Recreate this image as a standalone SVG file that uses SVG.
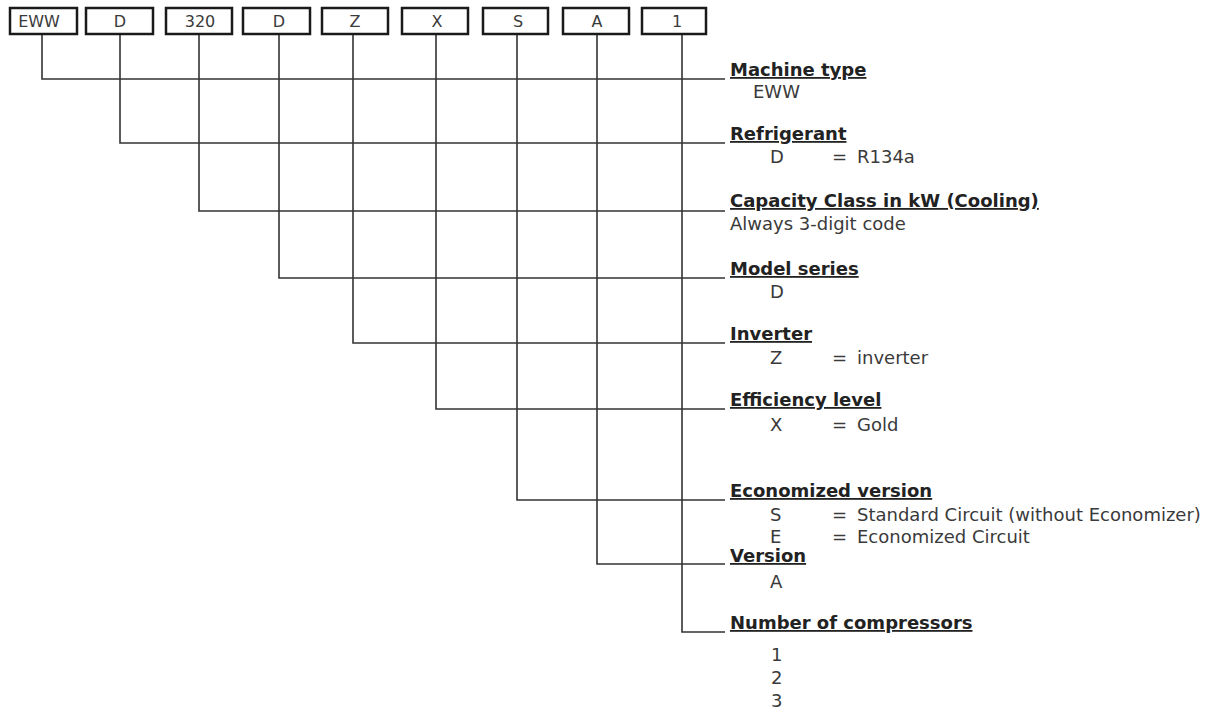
<svg xmlns="http://www.w3.org/2000/svg" width="1215" height="711" viewBox="0 0 1215 711">
<style>
.box rect{fill:#fff;stroke:#1a1a1a;stroke-width:2.5}
.box text{font-family:"DejaVu Sans",Verdana,sans-serif;font-size:16px;fill:#3a3a3a;text-anchor:middle}
.conn{fill:none;stroke:#333;stroke-width:1.6}
.t{font-family:"DejaVu Sans",Verdana,sans-serif;font-size:18px;font-weight:bold;fill:#222;text-decoration:underline}
.v{font-family:"DejaVu Sans",Verdana,sans-serif;font-size:18px;fill:#3a3a3a}
</style>
<rect width="1215" height="711" fill="#fff"/>
<g id="connectors">
<path class="conn" d="M42,34 V79 H725"/>
<path class="conn" d="M120,34 V143 H725"/>
<path class="conn" d="M199,34 V211 H725"/>
<path class="conn" d="M279,34 V278 H725"/>
<path class="conn" d="M353,34 V343 H725"/>
<path class="conn" d="M436,34 V409 H725"/>
<path class="conn" d="M517,34 V500 H725"/>
<path class="conn" d="M597,34 V564 H725"/>
<path class="conn" d="M682,34 V632 H725"/>
</g>
<g id="box-eww" class="box"><rect x="10" y="8" width="67" height="26"/><text x="39" y="27">EWW</text></g>
<g id="box-d1" class="box"><rect x="86" y="8" width="67" height="26"/><text x="120" y="27">D</text></g>
<g id="box-320" class="box"><rect x="166" y="8" width="66" height="26"/><text x="200" y="27">320</text></g>
<g id="box-d2" class="box"><rect x="243" y="8" width="67" height="26"/><text x="279" y="27">D</text></g>
<g id="box-z" class="box"><rect x="322" y="8" width="66" height="26"/><text x="355" y="27">Z</text></g>
<g id="box-x" class="box"><rect x="402" y="8" width="66" height="26"/><text x="437" y="27">X</text></g>
<g id="box-s" class="box"><rect x="483" y="8" width="65" height="26"/><text x="518" y="27">S</text></g>
<g id="box-a" class="box"><rect x="563" y="8" width="66" height="26"/><text x="597" y="27">A</text></g>
<g id="box-1" class="box"><rect x="642" y="8" width="64" height="26"/><text x="677" y="27">1</text></g>

<g id="machine-type">
<text class="t" x="730" y="76">Machine type</text>
<text class="v" x="753" y="98">EWW</text>
</g>
<g id="refrigerant">
<text class="t" x="730" y="140">Refrigerant</text>
<text class="v" x="770" y="163">D</text><text class="v" x="832" y="163">=</text><text class="v" x="857" y="163">R134a</text>
</g>
<g id="capacity">
<text class="t" x="730" y="207">Capacity Class in kW (Cooling)</text>
<text class="v" x="730" y="230">Always 3-digit code</text>
</g>
<g id="model-series">
<text class="t" x="730" y="275">Model series</text>
<text class="v" x="770" y="298">D</text>
</g>
<g id="inverter">
<text class="t" x="730" y="340">Inverter</text>
<text class="v" x="770" y="364">Z</text><text class="v" x="832" y="364">=</text><text class="v" x="857" y="364">inverter</text>
</g>
<g id="efficiency">
<text class="t" x="730" y="406">Efficiency level</text>
<text class="v" x="770" y="431">X</text><text class="v" x="832" y="431">=</text><text class="v" x="857" y="431">Gold</text>
</g>
<g id="economized">
<text class="t" x="730" y="497">Economized version</text>
<text class="v" x="770" y="521">S</text><text class="v" x="832" y="521">=</text><text class="v" x="857" y="521">Standard Circuit (without Economizer)</text>
<text class="v" x="770" y="543">E</text><text class="v" x="832" y="543">=</text><text class="v" x="857" y="543">Economized Circuit</text>
</g>
<g id="version">
<text class="t" x="730" y="562">Version</text>
<text class="v" x="770" y="588">A</text>
</g>
<g id="compressors">
<text class="t" x="730" y="629">Number of compressors</text>
<text class="v" x="771" y="661">1</text>
<text class="v" x="771" y="684">2</text>
<text class="v" x="771" y="707">3</text>
</g>
</svg>
